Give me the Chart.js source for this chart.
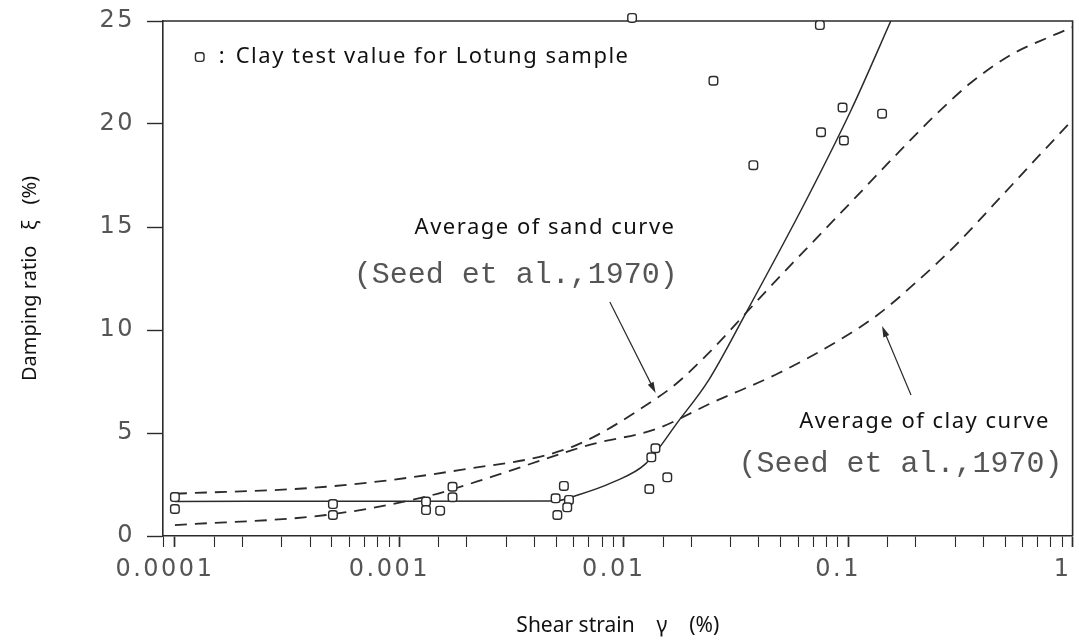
<!DOCTYPE html>
<html>
<head>
<meta charset="utf-8">
<script src="https://cdn.jsdelivr.net/npm/chart.js@4.4.1/dist/chart.umd.min.js"></script>
<style>
  html, body { margin: 0; padding: 0; background: #fff; }
</style>
</head>
<body>
<canvas id="myChart" width="1079" height="642"></canvas>
<script>
// clay test values, Lotung sample (shear strain %, damping ratio %)
const testStrain = [0.0001, 0.0001, 0.000506, 0.000506, 0.001315, 0.001315, 0.00152, 0.001726, 0.001726,
  0.00497, 0.00541, 0.0057, 0.0056, 0.00506, 0.01384, 0.01327, 0.01563, 0.0130,
  0.01089, 0.0748, 0.0251, 0.0944, 0.1416, 0.0757, 0.0957, 0.0378];
const testDamping = [1.89, 1.31, 1.55, 1.02, 1.67, 1.26, 1.23, 2.39, 1.88,
  1.83, 2.43, 1.75, 1.39, 1.02, 4.26, 3.82, 2.85, 2.28,
  25.15, 24.8, 22.1, 20.8, 20.5, 19.6, 19.2, 18.0];

// fitted curve through the Lotung data (solid)
const fitStrain = [0.0001, 0.001, 0.00494, 0.0063, 0.0089, 0.0125, 0.0176, 0.0239, 0.0352, 0.065, 0.1031, 0.1585];
const fitDamping = [1.68, 1.69, 1.70, 2.0, 2.6, 3.5, 5.6, 7.57, 10.87, 16.3, 20.68, 25.25];

// Seed et al. (1970) average sand curve (upper dashed)
const sandStrain = [0.0001, 0.000472, 0.00185, 0.00589, 0.01432, 0.0176, 0.025, 0.0352, 0.0432, 0.1071, 0.1668, 0.2427, 0.352, 0.53, 0.798, 1];
const sandDamping = [2.05, 2.39, 3.2, 4.33, 6.76, 7.5, 9.1, 10.85, 11.9, 16.4, 18.6, 20.4, 22.0, 23.35, 24.25, 24.7];

// Seed et al. (1970) average clay curve (lower dashed)
const clayStrain = [0.0001, 0.000472, 0.001315, 0.00259, 0.00589, 0.00748, 0.01384, 0.0246, 0.0489, 0.0966, 0.1359, 0.2, 0.3, 0.464, 0.7, 1];
const clayDamping = [0.53, 1.02, 1.91, 2.88, 4.17, 4.5, 5.18, 6.46, 7.9, 9.67, 10.75, 12.3, 14.1, 16.3, 18.4, 20.2];

const xTickLabels = ["0.0001", "0.001", "0.01", "0.1", "1"];
const yTickValues = [0, 5, 10, 15, 20, 25];

const ink = "#2b2b2b";
const tickGray = "#555";
const handFont = "'Noto Sans', sans-serif";

// notes placed in data coordinates
const notes = [
  { text: ":", x: 0.0001618, y: 23.25, align: "center", font: "22px " + handFont, color: "#111", spacing: "0px" },
  { text: "Clay test value for Lotung sample", x: 0.0001866, y: 23.25, align: "left", font: "22px " + handFont, color: "#111", spacing: "1.5px" },
  { text: "Average of sand curve", x: 0.00446, y: 14.95, align: "center", font: "22px " + handFont, color: "#111", spacing: "1.5px" },
  { text: "(Seed et al.,1970)", x: 0.0033, y: 12.67, align: "center", font: "30px 'Liberation Mono', monospace", color: "#555", spacing: "0px" },
  { text: "Average of clay curve", x: 0.2188, y: 5.53, align: "center", font: "22px " + handFont, color: "#111", spacing: "1.5px" },
  { text: "(Seed et al.,1970)", x: 0.171, y: 3.5, align: "center", font: "30px 'Liberation Mono', monospace", color: "#555", spacing: "0px" },
];
const legendMark = { x: 0.000129, y: 23.25 };
const arrows = [
  { from: [0.00867, 11.36], to: [0.01387, 6.94] },
  { from: [0.1905, 6.84], to: [0.1416, 10.19] },
];

const pts = (xs, ys) => xs.map((x, i) => ({ x: x, y: ys[i] }));

function isDecade(v) {
  const l = Math.log10(v);
  return Math.abs(l - Math.round(l)) < 1e-9;
}

const notesPlugin = {
  id: "notesPlugin",
  beforeDraw(chart) {
    chart.ctx.letterSpacing = "0px";
  },
  beforeDatasetsDraw(chart) {
    // top and right edges of the frame
    const c = chart.ctx, a = chart.chartArea;
    c.save();
    c.strokeStyle = ink;
    c.lineWidth = 1.6;
    c.beginPath();
    c.moveTo(a.left, a.top);
    c.lineTo(a.right, a.top);
    c.lineTo(a.right, a.bottom);
    c.stroke();
    c.restore();
  },
  afterDatasetsDraw(chart) {
    // tick labels are drawn after this (ticks z: 1), spaced out like the plotter font
    chart.ctx.letterSpacing = "2.5px";
  },
  afterDraw(chart) {
    const c = chart.ctx;
    const sx = chart.scales.x, sy = chart.scales.y;
    c.save();
    c.textBaseline = "middle";
    notes.forEach(function (n) {
      c.letterSpacing = n.spacing;
      c.font = n.font;
      c.fillStyle = n.color;
      c.textAlign = n.align;
      c.fillText(n.text, sx.getPixelForValue(n.x), sy.getPixelForValue(n.y));
    });
    c.letterSpacing = "0px";
    // legend square, same look as the data marks
    c.fillStyle = "#fff";
    c.strokeStyle = ink;
    c.lineWidth = 1.4;
    Chart.helpers.drawPoint(c, { pointStyle: "rectRounded", radius: 5, borderWidth: 1.4, rotation: 0 },
      sx.getPixelForValue(legendMark.x), sy.getPixelForValue(legendMark.y));
    c.fillStyle = ink;
    c.lineWidth = 1.2;
    arrows.forEach(function (ar) {
      const x1 = sx.getPixelForValue(ar.from[0]), y1 = sy.getPixelForValue(ar.from[1]);
      const x2 = sx.getPixelForValue(ar.to[0]), y2 = sy.getPixelForValue(ar.to[1]);
      const ang = Math.atan2(y2 - y1, x2 - x1);
      c.beginPath();
      c.moveTo(x1, y1);
      c.lineTo(x2 - 8 * Math.cos(ang), y2 - 8 * Math.sin(ang));
      c.stroke();
      c.beginPath();
      c.moveTo(x2, y2);
      c.lineTo(x2 - 11 * Math.cos(ang) + 3.2 * Math.sin(ang), y2 - 11 * Math.sin(ang) - 3.2 * Math.cos(ang));
      c.lineTo(x2 - 11 * Math.cos(ang) - 3.2 * Math.sin(ang), y2 - 11 * Math.sin(ang) + 3.2 * Math.cos(ang));
      c.closePath();
      c.fill();
    });
    c.restore();
  },
};

const ctx = document.getElementById("myChart");
new Chart(ctx, {
  type: "scatter",
  data: {
    datasets: [
      {
        label: "Clay test value for Lotung sample",
        data: pts(testStrain, testDamping),
        pointStyle: "rectRounded",
        pointRadius: 5,
        pointBorderWidth: 1.4,
        pointBorderColor: ink,
        pointBackgroundColor: "#fff",
        showLine: false,
        clip: false,
        order: 0,
      },
      {
        label: "Lotung fit",
        data: pts(fitStrain, fitDamping),
        showLine: true,
        borderColor: ink,
        borderWidth: 1.5,
        pointRadius: 0,
        cubicInterpolationMode: "monotone",
        order: 1,
      },
      {
        label: "Average of sand curve",
        data: pts(sandStrain, sandDamping),
        showLine: true,
        borderColor: ink,
        borderWidth: 1.8,
        borderDash: [12, 8],
        pointRadius: 0,
        cubicInterpolationMode: "monotone",
        order: 2,
      },
      {
        label: "Average of clay curve",
        data: pts(clayStrain, clayDamping),
        showLine: true,
        borderColor: ink,
        borderWidth: 1.8,
        borderDash: [12, 8],
        pointRadius: 0,
        cubicInterpolationMode: "monotone",
        order: 3,
      },
    ],
  },
  options: {
    responsive: false,
    animation: false,
    devicePixelRatio: 1,
    layout: {
      padding: { top: 21, right: 5, left: 0, bottom: 0 },
    },
    plugins: {
      legend: { display: false },
      tooltip: { enabled: false },
    },
    scales: {
      x: {
        type: "logarithmic",
        min: 0.0000885,
        max: 1,
        afterFit(s) {
          s.height = 106;
          s.paddingLeft = 0;
          s.paddingRight = 0;
        },
        grid: {
          drawOnChartArea: false,
          drawTicks: true,
          tickLength: 11,
          tickColor: ink,
          tickWidth: (c) => (c.tick && isDecade(c.tick.value) ? 1.7 : 1.1),
        },
        border: { display: true, color: ink, width: 1.6 },
        ticks: {
          autoSkip: false,
          maxRotation: 0,
          minRotation: 0,
          padding: 8,
          labelOffset: -10,
          z: 1,
          color: tickGray,
          font: { family: "'DejaVu Sans'", size: 24 },
          callback: function (value) {
            if (!isDecade(value)) return "";
            const found = xTickLabels.find((t) => Math.abs(Number(t) - value) < value * 1e-6);
            return found || "";
          },
        },
        title: {
          display: true,
          text: "Shear strain    γ    (%)",
          color: "#111",
          font: { family: handFont, size: 21 },
          padding: { top: 0, bottom: 3 },
        },
      },
      y: {
        min: 0,
        max: 25,
        afterFit(s) {
          s.width = 163;
          s.paddingTop = 0;
          s.paddingBottom = 0;
        },
        afterBuildTicks(s) {
          s.ticks = yTickValues.map((v) => ({ value: v }));
        },
        grid: {
          drawOnChartArea: false,
          drawTicks: true,
          tickLength: 16,
          tickColor: ink,
          tickWidth: 1.4,
        },
        border: { display: true, color: ink, width: 1.6 },
        ticks: {
          padding: 12,
          z: 1,
          color: tickGray,
          font: { family: "'DejaVu Sans'", size: 24 },
        },
        title: {
          display: true,
          text: "Damping ratio   ξ   (%)",
          color: "#111",
          font: { family: handFont, size: 20 },
          padding: { top: 18, bottom: 0 },
        },
      },
    },
  },
  plugins: [notesPlugin],
});
</script>
</body>
</html>
